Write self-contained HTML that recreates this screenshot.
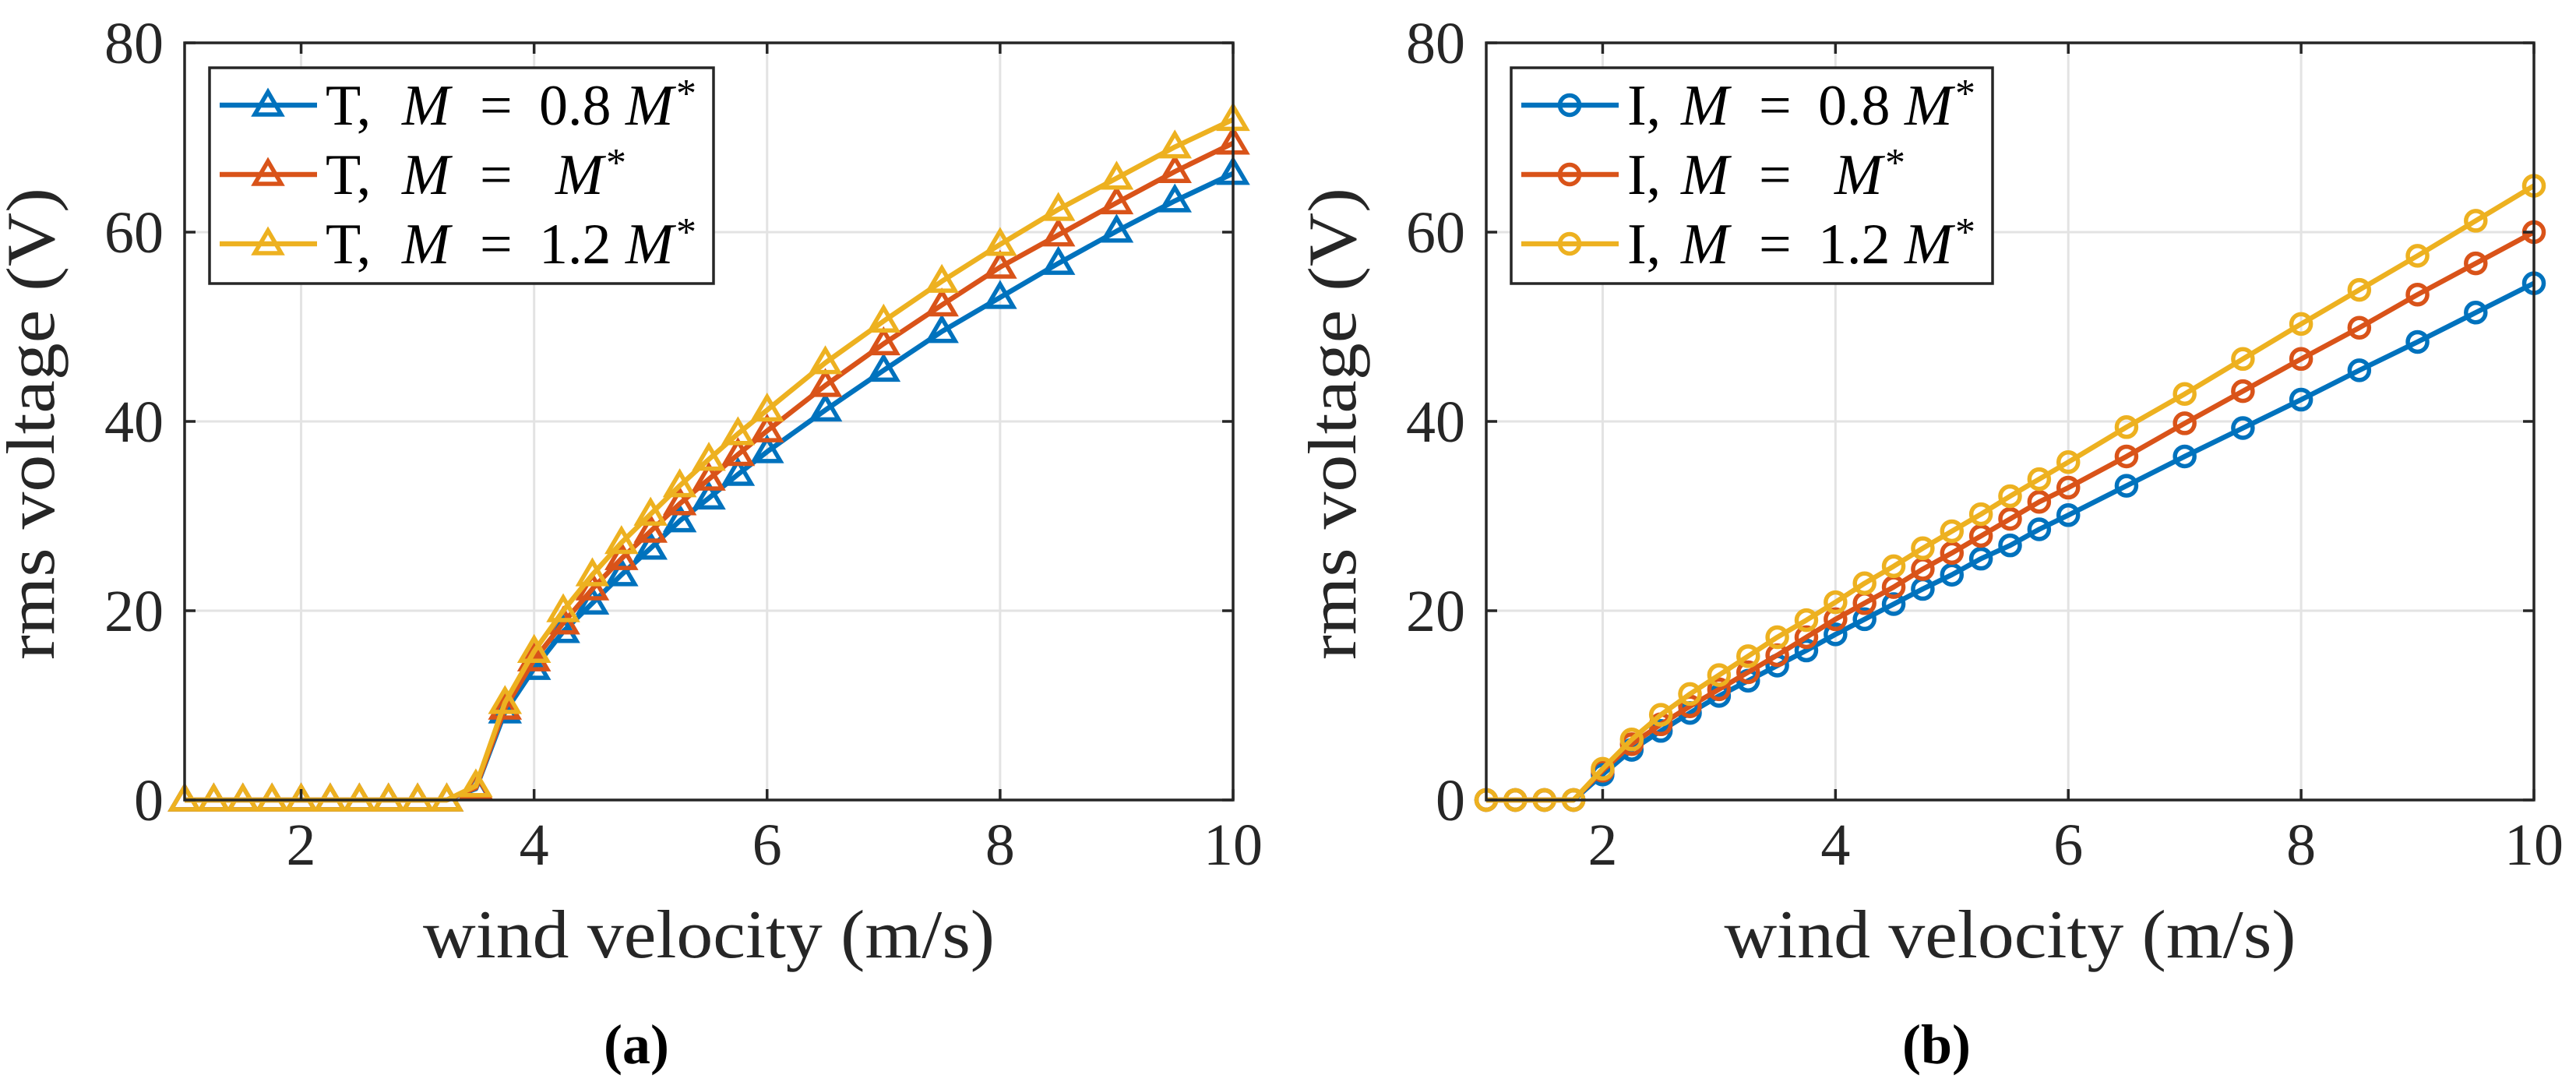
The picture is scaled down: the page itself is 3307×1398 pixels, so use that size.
<!DOCTYPE html>
<html><head><meta charset="utf-8"><style>
html,body{margin:0;padding:0;background:#fff;}
svg{display:block;}
svg text{font-family:"Liberation Serif",serif !important;}
</style></head><body>
<svg id="chart" width="3307" height="1398" viewBox="0 0 3307 1398" xmlns="http://www.w3.org/2000/svg" font-family="Liberation Serif, serif"></svg>
<script>
const xTicks=[2,4,6,8,10];
const yTicks=[0,20,40,60,80];
const xA=[1,1.25,1.5,1.75,2,2.25,2.5,2.75,3,3.25,3.5,3.75,4,4.25,4.5,4.75,5,5.25,5.5,5.75,6,6.5,7,7.5,8,8.5,9,9.5,10];
const tBlue=[0,0,0,0,0,0,0,0,0,0,1.2,9.3,13.9,17.8,20.8,23.8,26.6,29.5,31.9,34.4,36.8,41.2,45.4,49.5,53.1,56.7,60.1,63.3,66.2];
const tRed=[0,0,0,0,0,0,0,0,0,0,1.3,9.7,14.8,18.7,22.3,25.5,28.4,31.3,33.9,36.5,39,43.8,48.2,52.3,56.3,59.7,63.1,66.4,69.4];
const tYellow=[0,0,0,0,0,0,0,0,0,0,1.5,10.3,15.7,20,23.8,27.2,30.2,33.2,36,38.7,41.2,46.2,50.6,54.8,58.7,62.4,65.7,69,71.9];
const xB=[1,1.25,1.5,1.75,2,2.25,2.5,2.75,3,3.25,3.5,3.75,4,4.25,4.5,4.75,5,5.25,5.5,5.75,6,6.5,7,7.5,8,8.5,9,9.5,10];
const iBlue=[0,0,0,0,2.7,5.3,7.3,9.2,11,12.6,14.2,15.8,17.5,19.1,20.7,22.3,23.8,25.5,26.9,28.6,30.1,33.2,36.3,39.3,42.3,45.4,48.4,51.5,54.6];
const iRed=[0,0,0,0,3.1,5.9,8,9.9,11.7,13.5,15.3,17.2,19.1,20.8,22.5,24.4,26.1,27.9,29.7,31.5,33,36.3,39.8,43.2,46.6,49.9,53.4,56.7,60];
const iYellow=[0,0,0,0,3.3,6.4,9,11.2,13.2,15.2,17.2,19,20.9,22.9,24.7,26.6,28.4,30.2,32.1,33.9,35.7,39.4,42.9,46.6,50.3,53.9,57.5,61.2,64.9];
const legendA=["0.8","","1.2"];
const NS="http://www.w3.org/2000/svg";
const svg=document.getElementById('chart');
const COLORS=["#0072BD","#D95319","#EDB120"];
function mk(tag,attrs,parent){const e=document.createElementNS(NS,tag);for(const k in attrs)e.setAttribute(k,attrs[k]);(parent||svg).appendChild(e);return e;}
function marker(g,type,cx,cy,col){
  if(type==='tri'){
    const e=mk('polygon',{points:`${cx},${cy-17} ${cx-17},${cy+12} ${cx+17},${cy+12}`,fill:'none',stroke:col,'stroke-width':5.5},g);
    
  }else{
    const e=mk('circle',{cx:cx,cy:cy,r:12.5,fill:'none',stroke:col,'stroke-width':5.5},g);
    
  }
}
function panel(o){
  const L=o.left,R=o.right,T=55,B=1027;
  const sx=v=>L+(v-1)/9*(R-L), sy=v=>B-v/80*(B-T);
  const g=mk('g',{});
  mk('rect',{x:L,y:T,width:R-L,height:B-T,fill:'#fff'},g);
  xTicks.forEach(t=>{const l=mk('line',{x1:sx(t),x2:sx(t),y1:T,y2:B,stroke:'#e3e3e3','stroke-width':3},g);});
  yTicks.forEach(t=>{const l=mk('line',{x1:L,x2:R,y1:sy(t),y2:sy(t),stroke:'#e3e3e3','stroke-width':3},g);});
  o.series.forEach((s,i)=>{
    const sg=mk('g',{},g);
    const pts=s.x.map((x,j)=>sx(x)+','+sy(s.y[j])).join(' ');
    mk('polyline',{points:pts,fill:'none',stroke:COLORS[i],'stroke-width':6.5,'stroke-linejoin':'round'},sg);
    s.x.forEach((x,j)=>marker(sg,o.mk,sx(x),sy(s.y[j]),COLORS[i]));
  });
  const ax=mk('rect',{x:L,y:T,width:R-L,height:B-T,fill:'none',stroke:'#262626','stroke-width':3.5},g);
  
  xTicks.forEach(t=>{
    mk('line',{x1:sx(t),x2:sx(t),y1:B,y2:B-14,stroke:'#262626','stroke-width':3.5},g);
    mk('line',{x1:sx(t),x2:sx(t),y1:T,y2:T+14,stroke:'#262626','stroke-width':3.5},g);
    const tx=mk('text',{x:sx(t),y:1110,'font-size':76,fill:'#262626','text-anchor':'middle'},g);tx.textContent=t;
    
  });
  yTicks.forEach(t=>{
    mk('line',{x1:L,x2:L+14,y1:sy(t),y2:sy(t),stroke:'#262626','stroke-width':3.5},g);
    mk('line',{x1:R,x2:R-14,y1:sy(t),y2:sy(t),stroke:'#262626','stroke-width':3.5},g);
    const tx=mk('text',{x:L-27,y:sy(t)+26,'font-size':76,fill:'#262626','text-anchor':'end'},g);tx.textContent=t;
    
  });
  const xl=mk('text',{x:(L+R)/2,y:1229,'font-size':88,fill:'#262626','text-anchor':'middle',textLength:734,lengthAdjust:'spacingAndGlyphs'},g);
  xl.textContent='wind velocity (m/s)';
  const yx=L-168, yc=544;
  const yl=mk('text',{x:yx,y:yc,'font-size':88,fill:'#262626','text-anchor':'middle',transform:`rotate(-90 ${yx} ${yc})`,textLength:606,lengthAdjust:'spacingAndGlyphs'},g);
  yl.textContent='rms voltage (V)';
  const cap=mk('text',{x:o.capX,y:1365,'font-size':72,'font-weight':'bold',fill:'#000','text-anchor':'middle'},g);
  cap.textContent=o.cap;
  const lg=mk('g',{},g);
  const bx=o.legX,by=87;
  mk('rect',{x:bx,y:by,width:o.legW,height:277,fill:'#fff',stroke:'#262626','stroke-width':3.5},lg);
  const rows=[135,224,313];
  rows.forEach((ry,i)=>{
    const e=mk('g',{},lg);
    mk('line',{x1:bx+13,x2:bx+138,y1:ry,y2:ry,stroke:COLORS[i],'stroke-width':6.5},e);
    marker(e,o.mk,bx+75,ry,COLORS[i]);
    const d=o.txtOff;
    const t1=mk('text',{x:bx+149,y:ry+25,'font-size':74,fill:'#000'},e);t1.textContent=o.lab+',';
    const t2=mk('text',{x:bx+d+0,y:ry+25,'font-size':74,fill:'#000','font-style':'italic'},e);t2.textContent='M';
    const t3=mk('text',{x:bx+d+100,y:ry+25,'font-size':74,fill:'#000'},e);t3.textContent='=';
    if(legendA[i]){const t4=mk('text',{x:bx+d+176,y:ry+25,'font-size':74,fill:'#000'},e);t4.textContent=legendA[i];}
    const t5=mk('text',{x:bx+d+(i===1?197:287),y:ry+25,'font-size':74,fill:'#000','font-style':'italic'},e);t5.textContent='M';
    const t6=mk('text',{x:bx+d+(i===1?262:352),y:ry+2,'font-size':52,fill:'#000'},e);t6.textContent='*';
  });
}
panel({name:'panel-a',left:237,right:1583,mk:'tri',lab:'T',cap:'(a)',capX:817,legX:269,legW:647,txtOff:247,
  series:[{x:xA,y:tBlue},{x:xA,y:tRed},{x:xA,y:tYellow}]});
panel({name:'panel-b',left:1908,right:3253,mk:'circ',lab:'I',cap:'(b)',capX:2486,legX:1940,legW:618,txtOff:218,
  series:[{x:xB,y:iBlue},{x:xB,y:iRed},{x:xB,y:iYellow}]});
</script>
</body></html>
